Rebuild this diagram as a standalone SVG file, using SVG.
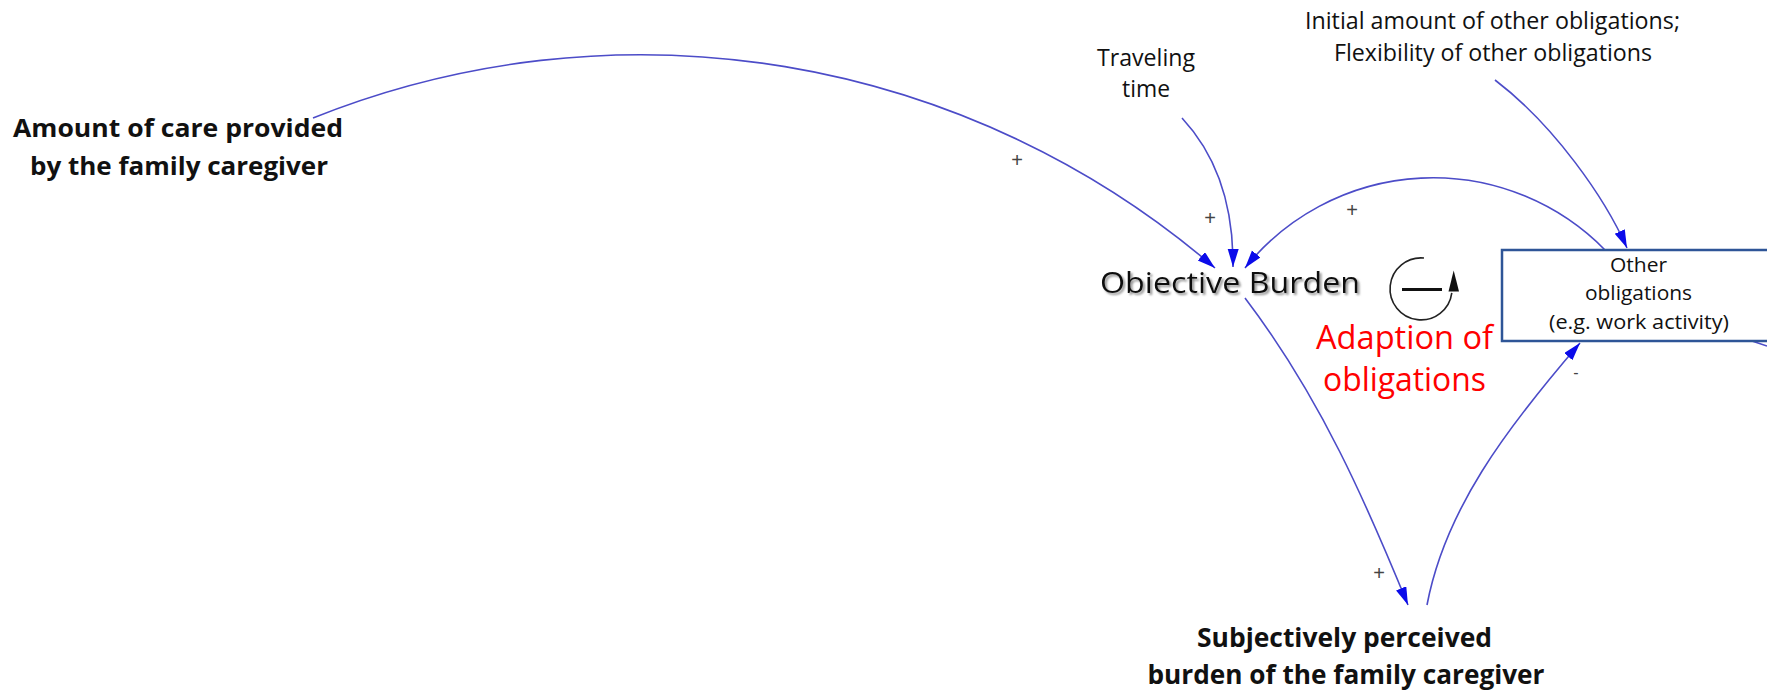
<svg xmlns="http://www.w3.org/2000/svg" width="1767" height="694" viewBox="0 0 1767 694">
<style>
.lbl{font-family:"Open Sans","Liberation Sans",sans-serif;fill:#111;text-anchor:middle}
.b{font-weight:bold}
.red{fill:#ff0000}
.con{fill:none;stroke:#4c4cc8;stroke-width:1.6}
.pol{font-family:"Liberation Sans",sans-serif;font-size:20px;fill:#444;text-anchor:middle}
</style>
<defs>
<marker id="ah" markerUnits="userSpaceOnUse" markerWidth="20" markerHeight="12" refX="18" refY="5.5" orient="auto">
<path d="M0,0 L18,5.5 L0,11 z" fill="#0b0bea"/>
</marker>
<filter id="sh" x="-5%" y="-20%" width="110%" height="150%">
<feDropShadow dx="2" dy="2" stdDeviation="1.2" flood-color="#777" flood-opacity="0.8"/>
</filter>
</defs>
<rect width="1767" height="694" fill="#ffffff"/>

<g id="connectors">
<path class="con" d="M313,118 A880,880 0 0,1 1215,268" marker-end="url(#ah)"/>
<path class="con" d="M1182,118 Q1234,174 1233,267" marker-end="url(#ah)"/>
<path class="con" d="M1605,250 A241,241 0 0,0 1245,268" marker-end="url(#ah)"/>
<path class="con" d="M1495,80 C1554,125 1605,198 1627,248" marker-end="url(#ah)"/>
<path class="con" d="M1245,298 C1321,398 1367,505 1408,605" marker-end="url(#ah)"/>
<path class="con" d="M1427,605 C1445,510 1505,430 1580,343" marker-end="url(#ah)"/>
<path class="con" d="M1752,341 L1767,346"/>
<text class="pol" x="1017" y="167">+</text>
<text class="pol" x="1210" y="225">+</text>
<text class="pol" x="1352" y="217">+</text>
<text class="pol" x="1379" y="580">+</text>
<text class="pol" x="1576" y="378" style="font-size:16px">-</text>
</g>

<g id="amount-of-care">
<text class="lbl b" x="178" y="136.5" font-size="24.5" textLength="330" lengthAdjust="spacingAndGlyphs">Amount of care provided</text>
<text class="lbl b" x="179" y="175" font-size="24.5" textLength="298" lengthAdjust="spacingAndGlyphs">by the family caregiver</text>
</g>

<g id="traveling-time">
<text class="lbl" x="1146" y="66" font-size="23" textLength="98" lengthAdjust="spacingAndGlyphs">Traveling</text>
<text class="lbl" x="1146" y="97" font-size="23" textLength="48" lengthAdjust="spacingAndGlyphs">time</text>
</g>

<g id="initial-amount">
<text class="lbl" x="1492.5" y="29" font-size="23" textLength="375" lengthAdjust="spacingAndGlyphs">Initial amount of other obligations;</text>
<text class="lbl" x="1493" y="61" font-size="23" textLength="318" lengthAdjust="spacingAndGlyphs">Flexibility of other obligations</text>
</g>

<g id="objective-burden">
<text class="lbl" x="1230" y="293" font-size="29.5" textLength="260" lengthAdjust="spacingAndGlyphs" filter="url(#sh)">Obiective Burden</text>
</g>

<g id="other-obligations">
<rect x="1502" y="250" width="290" height="91" fill="#ffffff" stroke="#2e5597" stroke-width="2.5"/>
<text class="lbl" x="1638.5" y="271.5" font-size="20" textLength="57" lengthAdjust="spacingAndGlyphs">Other</text>
<text class="lbl" x="1638.5" y="300" font-size="20" textLength="107" lengthAdjust="spacingAndGlyphs">obligations</text>
<text class="lbl" x="1639" y="328.5" font-size="20" textLength="180" lengthAdjust="spacingAndGlyphs">(e.g. work activity)</text>
</g>

<g id="loop-adaption">
<path d="M1424,258 A31,31 0 1,0 1451.8,292.8" fill="none" stroke="#222" stroke-width="1.6"/>
<line x1="1402" y1="289.5" x2="1442" y2="289.5" stroke="#111" stroke-width="3"/>
<path d="M1453.7,270.5 L1448.5,291.5 L1459,291.5 z" fill="#111"/>
<text class="lbl red" x="1404.5" y="349" font-size="32" textLength="177" lengthAdjust="spacingAndGlyphs">Adaption of</text>
<text class="lbl red" x="1404.5" y="391" font-size="32" textLength="163" lengthAdjust="spacingAndGlyphs">obligations</text>
</g>

<g id="subjective-burden">
<text class="lbl b" x="1344.5" y="647" font-size="27" textLength="295" lengthAdjust="spacingAndGlyphs">Subjectively perceived</text>
<text class="lbl b" x="1346" y="684" font-size="27" textLength="397" lengthAdjust="spacingAndGlyphs">burden of the family caregiver</text>
</g>
</svg>
